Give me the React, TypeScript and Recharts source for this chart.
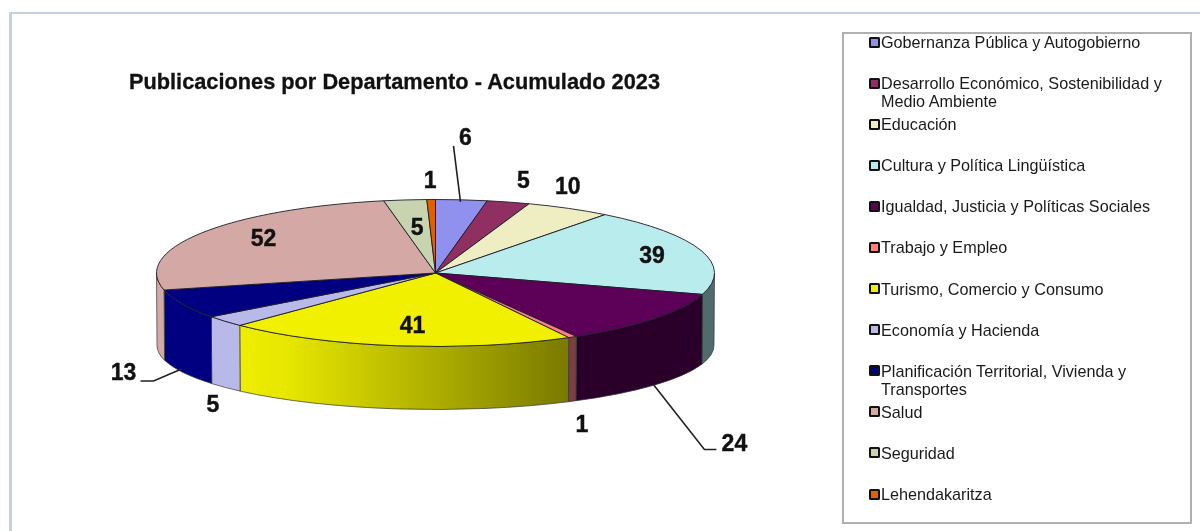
import React from "react";
import { PieChart, Pie, Cell, Legend } from "recharts";

const categories = [
  "Gobernanza Pública y Autogobierno",
  "Desarrollo Económico, Sostenibilidad y Medio Ambiente",
  "Educación",
  "Cultura y Política Lingüística",
  "Igualdad, Justicia y Políticas Sociales",
  "Trabajo y Empleo",
  "Turismo, Comercio y Consumo",
  "Economía y Hacienda",
  "Planificación Territorial, Vivienda y Transportes",
  "Salud",
  "Seguridad",
  "Lehendakaritza",
];
const values = [6, 5, 10, 39, 24, 1, 41, 5, 13, 52, 5, 1];
const topColors = ["#9090ee", "#8f2f62", "#eeeec2", "#b9ecec", "#5c0058", "#ff8080", "#f0f000", "#b9b9e9", "#000080", "#d4a8a4", "#c8d4b0", "#e06000"];
const wallColors = ["#9090ee", "#8f2f62", "#eeeec2", "#4f6b6b", "#2a002a", "#7a4040", "url(#wallYellow)", "#b9b9e9", "#000080", "#d4a8a4", "#c8d4b0", "#e06000"];
// label placement relative to the slice's point on the rim
const labelOffsets = [
  [4, -63], [15, -22], [-1, -22], [-49, 4], [80, 124], [9.5, 87],
  [16, -21], [-12, 83], [-59, 68], [62, 5], [12, 27], [-1, -20],
];
// leader lines, relative to the slice's point on the rim
const leaders: Record<number, number[][]> = {
  0: [[-1, 2], [-8, -54]],
  4: [[-1, 66], [50, 131], [62, 131]],
  8: [[-1, 65], [-29, 77], [-42, 77]],
};

const rows = categories.map((name, i) => ({ name, value: values[i] }));

const CX = 435.5;
const CY = 273;
const RX = 279;
const RY = 73.5;
const BOTTOM_CY = 345.5;
const BOTTOM_RY = 64;
const BOTTOM_RX = 278.5;

const rad = (d: number) => (d * Math.PI) / 180;
const pt = (a: number, cy: number, rx: number, ry: number) =>
  `${(CX + rx * Math.cos(rad(a))).toFixed(2)} ${(cy - ry * Math.sin(rad(a))).toFixed(2)}`;

function TopFace(props: any) {
  const { startAngle, endAngle, fill } = props;
  const large = Math.abs(endAngle - startAngle) > 180 ? 1 : 0;
  const d = `M ${CX} ${CY} L ${pt(startAngle, CY, RX, RY)} A ${RX} ${RY} 0 ${large} 1 ${pt(endAngle, CY, RX, RY)} Z`;
  return <path d={d} fill={fill} stroke="#1c1c28" strokeWidth={0.9} strokeLinejoin="round" />;
}

function Wall(props: any) {
  const { startAngle, endAngle, index } = props;
  // recharts angles run clockwise from 90 to -270; the front half lies between 0 and -180
  const a1 = Math.min(startAngle, 0);
  const a2 = Math.max(endAngle, -180);
  if (a2 >= a1) return <g />;
  const d =
    `M ${pt(a1, CY, RX, RY)} A ${RX} ${RY} 0 0 1 ${pt(a2, CY, RX, RY)} ` +
    `L ${pt(a2, BOTTOM_CY, BOTTOM_RX, BOTTOM_RY)} A ${BOTTOM_RX} ${BOTTOM_RY} 0 0 0 ${pt(a1, BOTTOM_CY, BOTTOM_RX, BOTTOM_RY)} Z`;
  return (
    <g>
      <defs>
        <linearGradient id="wallYellow" x1="0" x2="1" y1="0" y2="0">
          <stop offset="0" stopColor="#eeee00" />
          <stop offset="0.15" stopColor="#e6e600" />
          <stop offset="1" stopColor="#7a7a00" />
        </linearGradient>
      </defs>
      <path d={d} fill={wallColors[index]} stroke="#33333a" strokeWidth={0.7} strokeLinejoin="round" />
    </g>
  );
}

function renderLabel(props: any) {
  const { midAngle, index, value } = props;
  const ax = CX + RX * Math.cos(rad(midAngle));
  const ay = CY - RY * Math.sin(rad(midAngle));
  const [dx, dy] = labelOffsets[index];
  const lead = leaders[index];
  return (
    <g key={index}>
      {lead && (
        <polyline
          points={lead.map(([lx, ly]) => `${ax + lx},${ay + ly}`).join(" ")}
          fill="none"
          stroke="#222"
          strokeWidth={1.6}
        />
      )}
      <text
        x={ax + dx}
        y={ay + dy}
        textAnchor="middle"
        dominantBaseline="central"
        fontFamily="'Liberation Sans', Arial, sans-serif"
        fontWeight={700}
        fontSize={23}
        fill="#111"
        stroke="#111"
        strokeWidth={0.4}
      >
        {value}
      </text>
    </g>
  );
}

function LegendBox({ payload }: any) {
  const items = (payload || []).filter((p: any) => p.type !== "none");
  return (
    <div
      style={{
        width: 350,
        height: 492,
        boxSizing: "border-box",
        border: "2px solid #b0b0b0",
        background: "#fff",
        fontFamily: "'Liberation Sans', Arial, sans-serif",
        fontSize: 16.2,
        lineHeight: "18px",
        color: "#1a1a1a",
        marginTop: 0,
      }}
    >
      {items.map((p: any, i: number) => (
        <div key={p.value} style={{ height: 41.1, position: "relative", top: -1, paddingLeft: 37, width: 295 }}>
          <span
            style={{
              position: "absolute",
              left: 25,
              top: 3.5,
              width: 7,
              height: 7,
              border: "2px solid #111",
              borderRadius: 1.5,
              background: p.color,
            }}
          />
          {p.value}
        </div>
      ))}
    </div>
  );
}

export default function App() {
  return (
    <div style={{ position: "absolute", left: 0, top: 0, width: 1200, height: 531, background: "#fff", overflow: "hidden", filter: "blur(0.4px)" }}>
      <div
        style={{
          position: "absolute",
          left: 9,
          top: 12,
          width: 1210,
          height: 540,
          boxSizing: "border-box",
          borderStyle: "solid",
          borderColor: "#c2d2e4",
          borderWidth: "2px 0 0 3px",
        }}
      />
      <PieChart width={1200} height={531} style={{ position: "absolute", left: 0, top: 0 }}>
        <Pie
          data={rows}
          dataKey="value"
          nameKey="name"
          cx={CX}
          cy={CY}
          outerRadius={RX}
          startAngle={90}
          endAngle={-270}
          legendType="none"
          isAnimationActive={false}
          shape={Wall}
          label={false}
          labelLine={false}
        />
        <Pie
          data={rows}
          dataKey="value"
          nameKey="name"
          cx={CX}
          cy={CY}
          outerRadius={RX}
          startAngle={90}
          endAngle={-270}
          isAnimationActive={false}
          shape={TopFace}
          label={renderLabel}
          labelLine={false}
        >
          {rows.map((r, i) => (
            <Cell key={r.name} fill={topColors[i]} />
          ))}
        </Pie>
        <Legend
          content={LegendBox}
          itemSorter={null}
          wrapperStyle={{ position: "absolute", left: 842, top: 32, width: 350, height: 492 }}
        />
      </PieChart>
      <div
        style={{
          position: "absolute",
          left: 129,
          top: 70,
          whiteSpace: "nowrap",
          fontFamily: "'Liberation Sans', Arial, sans-serif",
          fontWeight: 700,
          fontSize: 21.75,
          lineHeight: "24px",
          color: "#111",
          WebkitTextStroke: "0.3px #111",
        }}
      >
        Publicaciones por Departamento - Acumulado 2023
      </div>
    </div>
  );
}
